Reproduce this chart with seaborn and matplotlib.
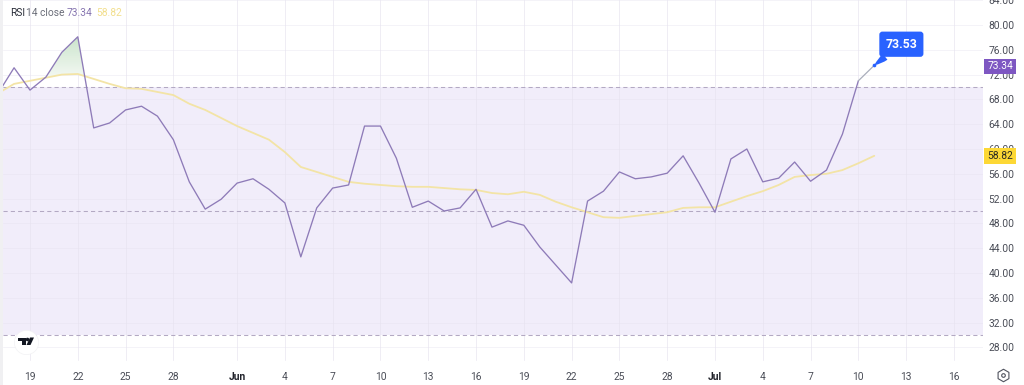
#!/usr/bin/env python3

import numpy as np
import pandas as pd
import matplotlib
matplotlib.use('Agg')
import matplotlib.pyplot as plt
import seaborn as sns
from matplotlib.lines import Line2D
from matplotlib.patches import Rectangle, Polygon
from matplotlib.transforms import Affine2D

# data, day 0 = May 19
rsi = [69.0, 73.1, 69.5, 71.6, 75.6, 78.1, 63.4, 64.2, 66.3, 66.9, 65.3, 61.5,
       54.7, 50.3, 51.9, 54.5, 55.2, 53.5, 51.3, 42.6, 50.5, 53.7, 54.2, 63.7,
       63.7, 58.5, 50.6, 51.6, 50.0, 50.5, 53.5, 47.4, 48.4, 47.7, 44.2, 41.3,
       38.4, 51.6, 53.2, 56.3, 55.2, 55.5, 56.1, 58.9, 54.5, 49.8, 58.4, 60.0,
       54.7, 55.3, 57.9, 54.8, 56.6, 62.4, 71.0, 73.5]
rsi_ma = [69.0, 70.5, 71.0, 71.5, 72.0, 72.1, 71.3, 70.5, 69.8, 69.7, 69.2, 68.7,
          67.3, 66.3, 65.0, 63.7, 62.6, 61.5, 59.5, 57.1, 56.3, 55.5, 54.7, 54.4,
          54.2, 54.0, 53.9, 53.9, 53.7, 53.5, 53.4, 52.9, 52.7, 53.1, 52.6, 51.5,
          50.6, 49.8, 49.0, 48.9, 49.2, 49.5, 49.8, 50.5, 50.6, 50.6, 51.5, 52.4,
          53.2, 54.2, 55.5, 55.8, 56.0, 56.6, 57.7, 58.9]
days = list(range(-2, 54))

x_ticks = [0, 3, 6, 9, 13, 16, 19, 22, 25, 28, 31, 34, 37, 40, 43, 46, 49, 52, 55, 58]
x_labels = ['19', '22', '25', '28', 'Jun', '4', '7', '10', '13', '16', '19', '22',
            '25', '28', 'Jul', '4', '7', '10', '13', '16']
y_ticks = list(range(28, 88, 4))
bands = [70, 50, 30]

df = pd.DataFrame({'day': days, 'rsi': rsi, 'ma': rsi_ma})

PURPLE = '#8E7BB8'
YELLOW = '#F3E4A6'

sns.set_style('white')
plt.rcParams['font.family'] = ['Roboto', 'DejaVu Sans']

fig = plt.figure(figsize=(10.24, 3.85), dpi=100, facecolor='white')
ax = fig.add_axes([3 / 1024, 20 / 385, 980 / 1024, 365 / 385])
xlim = ((3 - 30) / 15.93, (983 - 30) / 15.93)
ylim = (70 - 345 / 6.2 + 67 / 6.2, 70 + 87 / 6.2)

for s in ax.spines.values():
    s.set_visible(False)

# band and grid
ax.axhspan(bands[2], bands[0], color='#F1EDFA', lw=0, zorder=0)
for t in y_ticks:
    ax.axhline(t, color='#E6E3EF', lw=0.6, alpha=0.5, zorder=0.5)
for t in x_ticks:
    ax.plot([t, t], [26.0, 84.1], color='#E6E3EF', lw=0.7, alpha=0.65, zorder=0.5)
for b in bands:
    ax.axhline(b, color='#B3A9C3', lw=0.75, ls=(0, (4, 3)), zorder=1)

# green gradient above the average, only the main peak
fill_x = np.linspace(days[0], days[-1], 1101)
fill_rsi = np.interp(fill_x, days, rsi)
fill_ma = np.interp(fill_x, days, rsi_ma)
poly = ax.fill_between(fill_x, fill_ma, fill_rsi,
                       where=(fill_rsi > fill_ma) & (fill_x > 0.5) & (fill_x < 6),
                       color='none', lw=0)
grad = ax.imshow(np.linspace(0, 1, 64).reshape(-1, 1),
                 extent=[-2, 6, 71.5, 78.5], origin='lower', aspect='auto', zorder=1.5,
                 cmap=matplotlib.colors.LinearSegmentedColormap.from_list('g', ['#F4F9F3', '#C9E3CA']))
grad.set_clip_path(poly.get_paths()[0], transform=ax.transData)
ax.set_xlim(xlim)
ax.set_ylim(ylim)

# lines
sns.lineplot(df, x='day', y='ma', ax=ax, color=YELLOW, lw=1.3, zorder=2, legend=False)
sns.lineplot(df.iloc[:-1], x='day', y='rsi', ax=ax, color=PURPLE, lw=0.95, zorder=3, legend=False)
sns.lineplot(df.iloc[-2:], x='day', y='rsi', ax=ax, color='#A9AEBB', lw=0.9, zorder=3, legend=False)

ax.set_xlabel('')
ax.set_ylabel('')

# axes
ax.yaxis.tick_right()
ax.set_yticks(y_ticks)
ax.set_yticklabels(['%.2f' % t for t in y_ticks], fontsize=7.4, color='#4A4D57')
ax.set_xticks(x_ticks)
ax.set_xticklabels(x_labels, fontsize=7.4, color='#4A4D57')
ax.tick_params(axis='y', length=0, pad=4)
ax.tick_params(axis='x', length=0, pad=5)
for lab in ax.get_xticklabels():
    if lab.get_text() in ('Jun', 'Jul'):
        lab.set_fontweight('bold')
        lab.set_color('#20222A')

# last value tags on the price scale
tr = ax.get_yaxis_transform()
ax.text(1.0175, rsi[-1] - 0.19, '73.34', transform=tr, fontsize=7.4, color='white', ha='center', va='center',
        clip_on=False, zorder=6, bbox=dict(boxstyle='square,pad=0.28', fc='#7E57C2', ec='none'))
ax.text(1.0175, rsi_ma[-1] - 0.08, '58.82', transform=tr, fontsize=7.4, color='#2A2A22', ha='center', va='center',
        clip_on=False, zorder=6, bbox=dict(boxstyle='square,pad=0.28', fc='#FDD835', ec='none'))

# callout
ax.annotate('73.53', xy=(days[-1], rsi[-1]), xytext=(54.7, 76.9), fontsize=8.8, fontweight='bold',
            color='white', ha='center', va='center', zorder=7,
            bbox=dict(boxstyle='round,pad=0.5,rounding_size=0.25', fc='#2962FF', ec='none'),
            arrowprops=dict(arrowstyle='wedge,tail_width=0.6,shrink_factor=0.7', fc='#2962FF', ec='none',
                            shrinkA=0, shrinkB=0))
ax.scatter([days[-1]], [rsi[-1]], s=7, color='#2962FF', zorder=7, lw=0)

# header
y_head = 1 - 12.5 / 385
fig.text(10 / 1024, y_head, 'RSI', fontsize=7.4, color='#2A2E39', va='center')
fig.text(26.5 / 1024, y_head, '14 close', fontsize=7.4, color='#6A6D78', va='center')
fig.text(67 / 1024, y_head, '73.34', fontsize=7.4, color='#8675B0', va='center')
fig.text(96 / 1024, y_head, '58.82', fontsize=7.4, color='#F2DF8E', va='center')

# logo, drawn in pixels from the top-left corner
px = Affine2D().scale(1, -1).translate(0, 385)
fig.add_artist(Line2D([26 / 1024], [1 - 342 / 385], marker='o', ms=17.5, mfc='white', mec='#F2F2F4', mew=0.5,
                      transform=fig.transFigure, zorder=4))
logo_color = '#131722'
fig.add_artist(Polygon([(18, 337.5), (25.5, 337.5), (25.5, 345), (22, 345), (22, 340.5), (18, 340.5)],
                       closed=True, fc=logo_color, ec='none', transform=px, zorder=5))
fig.add_artist(Line2D([27.3 / 1024], [1 - 339 / 385], marker='o', ms=2.6, mfc=logo_color, mec='none',
                      transform=fig.transFigure, zorder=5))
fig.add_artist(Polygon([(30, 337.5), (34, 337.5), (30.5, 345), (26.5, 345)],
                       closed=True, fc=logo_color, ec='none', transform=px, zorder=5))

# settings icon
fig.add_artist(Line2D([1003 / 1024], [1 - 375 / 385], marker='h', ms=9, mfc='white', mec='#50535E', mew=0.8,
                      transform=fig.transFigure))
fig.add_artist(Line2D([1003 / 1024], [1 - 375 / 385], marker='o', ms=2.6, mfc='white', mec='#50535E', mew=0.8,
                      transform=fig.transFigure))

# thin strip at left edge
fig.add_artist(Rectangle((0, 0), 2.5 / 1024, 1, transform=fig.transFigure, fc='#F0F0F2', ec='none'))

fig.savefig('out.png', dpi=100)
